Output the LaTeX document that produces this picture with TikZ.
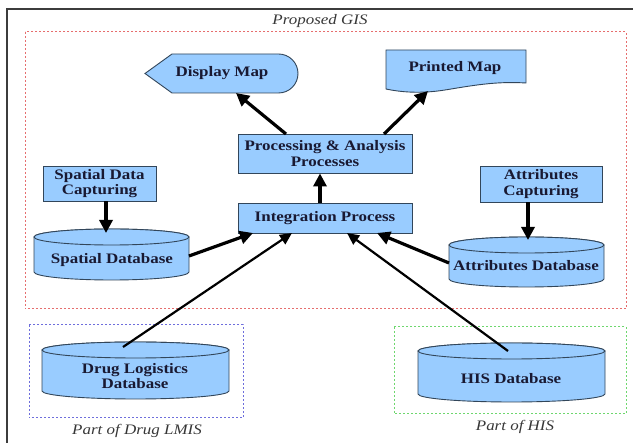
\documentclass[tikz,border=0pt]{standalone}
\usepackage{fontspec}
\setmainfont{Liberation Serif}
\newfontfamily\figfont[FakeStretch=1.17]{Liberation Serif}
\usetikzlibrary{arrows.meta}
\definecolor{boxfill}{RGB}{153,204,255}
\definecolor{boxline}{RGB}{50,70,90}
\definecolor{txt}{RGB}{25,25,50}
\definecolor{captxt}{RGB}{55,55,55}
\definecolor{redbox}{RGB}{230,110,110}
\definecolor{bluebox}{RGB}{110,110,220}
\definecolor{greenbox}{RGB}{110,215,110}
\definecolor{frame}{RGB}{60,60,60}
\newcommand\drawcyl[4]{%
  \pgfmathsetmacro\cylcx{(#1+#2)/2}%
  \pgfmathsetmacro\cylrx{(#2-#1)/2}%
  \draw[shapestyle] (#1,#3+8) -- (#1,#4-8)
    arc[start angle=180,end angle=360,x radius=\cylrx pt,y radius=8pt]
    -- (#2,#3+8)
    arc[start angle=0,end angle=180,x radius=\cylrx pt,y radius=8pt] -- cycle;
  \draw[shapestyle] (\cylcx,#3+8) ellipse[x radius=\cylrx pt,y radius=8pt];
}
\begin{document}
\begin{tikzpicture}[x=1pt,y=-1pt,
  shapestyle/.style={draw=boxline, fill=boxfill, line width=0.9pt},
  lbl/.style={font=\figfont\bfseries\fontsize{14.5}{15.5}\selectfont, text=txt, align=center, inner sep=0pt},
  boxnode/.style={shapestyle, lbl, inner sep=0pt},
  captext/.style={font=\figfont\itshape\fontsize{14.5}{16}\selectfont, text=captxt, inner sep=0pt},
  arr/.style={line width=3.2pt, -{Triangle[length=13pt,width=13pt]}},
  thinarr/.style={line width=2.2pt, -{Triangle[length=12pt,width=11pt]}},
  regionbox/.style={line width=1pt, dash pattern=on 2pt off 2pt}
]
\useasboundingbox (0,0) rectangle (633,443);
\fill[white] (0,0) rectangle (633,443);

% outer frame (cut at the right and bottom)
\draw[line width=1.6pt, draw=frame] (7,450) -- (7,9) -- (640,9);

% regions
\draw[regionbox, draw=redbox] (25,32) rectangle (626,309);
\draw[regionbox, draw=bluebox] (29,325) rectangle (243,418);
\draw[regionbox, draw=greenbox] (394,327) rectangle (626,414);
\node[captext] (t1) at (320,21) {Proposed GIS};
\node[captext] (t2) at (137,431) {Part of Drug LMIS};
\node[captext] (t3) at (515,427) {Part of HIS};

% display map
\draw[shapestyle] (145,73.5) -- (172,54) -- (278.5,54)
  arc[start angle=90,end angle=-90,radius=19.5pt] -- (172,93) -- cycle;
\node[lbl] (dm) at (222,73.5) {Display Map};
% printed map
\draw[shapestyle] (386,50) -- (526,50) -- (526,83)
  .. controls (495,81) and (470,86) .. (445,90)
  .. controls (420,94) and (400,92) .. (386,89) -- cycle;
\node[lbl] (pm) at (455,68) {Printed Map};

% process boxes
\node[boxnode, minimum width=174pt, minimum height=39pt] (pap) at (325,153.5) {Processing \& Analysis\\Processes};
\node[boxnode, minimum width=174pt, minimum height=30pt] (ip) at (325,218) {Integration Process};
\node[boxnode, minimum width=113pt, minimum height=35pt] (sdc) at (99.5,183.5) {Spatial Data\\Capturing};
\node[boxnode, minimum width=122pt, minimum height=36pt] (ac) at (541,184) {Attributes\\Capturing};

% databases
\drawcyl{34}{189}{229}{280}
\node[lbl] (sdb) at (112,260) {Spatial Database};
\drawcyl{449}{604}{237}{287}
\node[lbl] (adb) at (526,266) {Attributes Database};
\drawcyl{42}{229}{342}{399}
\node[lbl] (dldb) at (135,376) {Drug Logistics\\Database};
\drawcyl{418}{605}{343}{402}
\node[lbl] (hisdb) at (511,379) {HIS Database};

% connector ends
\coordinate (sdbtop) at (106,233);
\coordinate (sdbr) at (189,256);
\coordinate (adbtop) at (528,240);
\coordinate (adbl) at (449,263);
\coordinate (dltop) at (123,347);
\coordinate (histop) at (508,351);
\coordinate (ipa) at (253,233);
\coordinate (ipb) at (292,233);
\coordinate (ipc) at (347,233);
\coordinate (ipd) at (377,233);
\coordinate (ipup) at (320,0);
\coordinate (dms) at (236,93);
\coordinate (pms) at (428,91);
\coordinate (papa) at (286,134);
\coordinate (papb) at (384,134);

% connectors
\draw[arr] (sdc.south -| sdbtop) -- (sdbtop);
\draw[arr] (ac.south -| adbtop) -- (adbtop);
\draw[arr] (ip.north -| ipup) -- (pap.south -| ipup);
\draw[arr] (papa) -- (dms);
\draw[arr] (papb) -- (pms);
\draw[arr] (sdbr) -- (ipa);
\draw[arr] (adbl) -- (ipd);
\draw[thinarr] (dltop) -- (ipb);
\draw[thinarr] (histop) -- (ipc);
\end{tikzpicture}
\end{document}
